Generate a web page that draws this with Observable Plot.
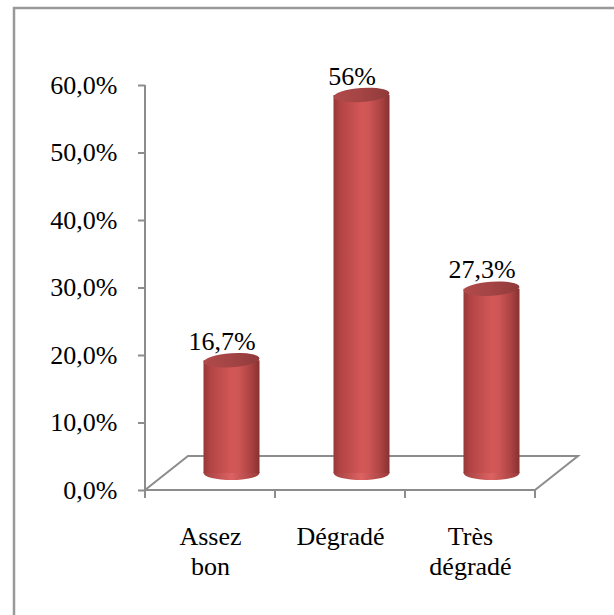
<!DOCTYPE html>
<html>
<head>
<meta charset="utf-8">
<script src="https://cdn.jsdelivr.net/npm/d3@7"></script>
<script src="https://cdn.jsdelivr.net/npm/@observablehq/plot@0.6"></script>
<style>
  body { margin: 0; background: #fff; }
  #chart svg { display: block; }
  #chart svg text { font-family: "Liberation Serif", "Times New Roman", serif; }
</style>
</head>
<body>
<div id="chart"></div>
<script>
// Condition categories and their shares
const categories = ["Assez bon", "Dégradé", "Très dégradé"];
const categoryLabels = ["Assez\nbon", "Dégradé", "Très\ndégradé"];
const values = [0.167, 0.56, 0.273];
const valueLabels = ["16,7%", "56%", "27,3%"];
const yTicks = [0, 0.1, 0.2, 0.3, 0.4, 0.5, 0.6];

const data = categories.map((c, i) => ({
  category: c,
  label: categoryLabels[i],
  value: values[i],
  text: valueLabels[i]
}));

// 3D look: floor depth, cylinders sit half-way back
const depth = {dx: 43, dy: -34};
const mid = {dx: depth.dx / 2, dy: depth.dy / 2};
const barInset = 37;
const capRy = 7;
const axisColor = "#8c8c8c";
const font = "Liberation Serif, Times New Roman, serif";

const svgNS = "http://www.w3.org/2000/svg";
function el(name, attrs = {}) {
  const e = document.createElementNS(svgNS, name);
  for (const [k, v] of Object.entries(attrs)) e.setAttribute(k, v);
  return e;
}
function bandwidthOf(x, dims) {
  if (x.bandwidth) return x.bandwidth();
  return (dims.width - dims.marginLeft - dims.marginRight) / categories.length;
}

// Gradients used by the cylinders
function gradients() {
  const defs = el("defs");
  const mk = (id, stops) => {
    const g = el("linearGradient", {id, x1: "0", y1: "0", x2: "1", y2: "0"});
    for (const [o, c] of stops) g.append(el("stop", {offset: o, "stop-color": c}));
    defs.append(g);
  };
  mk("cylBody", [["0", "#973838"], ["0.12", "#b24444"], ["0.5", "#d35757"], ["0.62", "#d05656"], ["0.85", "#ab4242"], ["1", "#873131"]]);
  mk("cylBase", [["0", "#a34040"], ["0.5", "#dd6262"], ["1", "#9a3a3a"]]);
  mk("cylTop", [["0", "#b04a4a"], ["0.5", "#a44444"], ["1", "#8f3a3a"]]);
  return defs;
}

// Outer chart frame
function border(index, scales, values, dims) {
  return el("rect", {
    x: 14, y: 8, width: dims.width, height: dims.height,
    fill: "none", stroke: "#999", "stroke-width": 2.5
  });
}

// Floor parallelogram, value axis line and category ticks
function floor(index, {x, y}, values, dims) {
  const g = el("g", {stroke: axisColor, "stroke-width": 2, fill: "none"});
  const bw = bandwidthOf(x, dims);
  const x0 = x(categories[0]);
  const x1 = x(categories[categories.length - 1]) + bw;
  const y0 = y(0);
  const pts = [[x0, y0], [x1, y0], [x1 + depth.dx, y0 + depth.dy], [x0 + depth.dx, y0 + depth.dy]];
  g.append(el("path", {d: "M" + pts.map(p => p.join(",")).join("L") + "Z"}));
  g.append(el("line", {x1: x0, y1: y(yTicks[yTicks.length - 1]), x2: x0, y2: y0 + 8}));
  for (let i = 0; i <= categories.length; i++) {
    const xi = x0 + i * bw;
    g.append(el("line", {x1: xi, y1: y0, x2: xi, y2: y0 + 8}));
  }
  return g;
}

// Elliptical caps of the cylinders (base or top)
function caps(which) {
  return (index, {x, y}, values, dims) => {
    const g = el("g");
    const bw = bandwidthOf(x, dims);
    const rx = (bw - 2 * barInset) / 2;
    for (const d of data) {
      const cx = x(d.category) + bw / 2 + mid.dx;
      const cy = y(which === "top" ? d.value : 0) + mid.dy;
      const attrs = {cx, cy, rx, ry: capRy, fill: which === "top" ? "url(#cylTop)" : "url(#cylBase)"};
      if (which === "top") attrs.transform = `rotate(-4 ${cx} ${cy})`;
      g.append(el("ellipse", attrs));
    }
    return g;
  };
}

const chart = Plot.plot({
  width: 614,
  height: 615,
  marginLeft: 145,
  marginRight: 79,
  marginTop: 85,
  marginBottom: 125,
  style: {fontFamily: font, color: "black", background: "white"},
  x: {domain: categories, padding: 0, axis: null},
  y: {domain: [0, 0.6], axis: null, label: null},
  marks: [
    gradients,
    border,
    floor,
    Plot.axisY({
      ticks: yTicks,
      tickFormat: d => (d * 100).toFixed(1).replace(".", ",") + "%",
      label: null,
      tickSize: 7,
      tickPadding: 21,
      fontSize: 26,
      fontFamily: font,
      stroke: axisColor,
      strokeWidth: 2,
      fill: "black"
    }),
    caps("base"),
    Plot.barY(data, {
      x: "category",
      y: "value",
      fill: "url(#cylBody)",
      insetLeft: barInset,
      insetRight: barInset,
      dx: mid.dx,
      dy: mid.dy
    }),
    caps("top"),
    Plot.text(data, {
      x: "category",
      y: "value",
      text: "text",
      dx: mid.dx - 10,
      dy: mid.dy - 11,
      lineAnchor: "bottom",
      fontSize: 26,
      fontFamily: font,
      fill: "black"
    }),
    Plot.text(data, {
      x: "category",
      text: "label",
      frameAnchor: "bottom",
      lineAnchor: "top",
      lineHeight: 1.15,
      dy: 33.5,
      fontSize: 26,
      fontFamily: font,
      fill: "black"
    })
  ]
});

document.getElementById("chart").append(chart);
</script>
</body>
</html>
